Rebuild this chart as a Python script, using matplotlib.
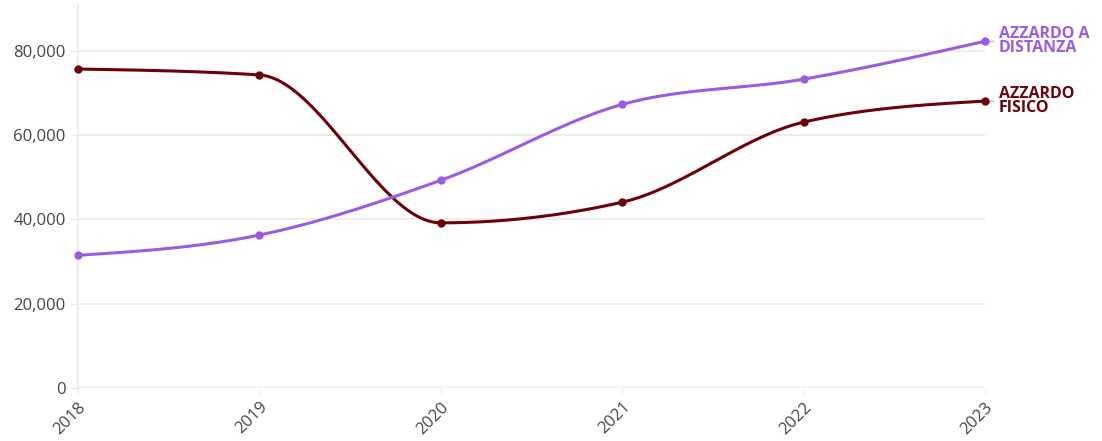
import numpy as np
import matplotlib
matplotlib.use("Agg")
import matplotlib.pyplot as plt

years = [2018, 2019, 2020, 2021, 2022, 2023]
fisico = [75700, 74300, 39200, 44100, 63100, 68100]
distanza = [31500, 36300, 49300, 67300, 73300, 82300]

col_fisico = "#6b0207"
col_distanza = "#9a5ce0"


def monotone(x, y, n=60):
	# Fritsch-Carlson monotone cubic, like d3.curveMonotoneX
	x = np.asarray(x, float)
	y = np.asarray(y, float)
	h = np.diff(x)
	s = np.diff(y) / h
	m = np.zeros(len(x))
	for i in range(1, len(x) - 1):
		if s[i - 1] * s[i] <= 0:
			m[i] = 0
		else:
			p = (s[i - 1] * h[i] + s[i] * h[i - 1]) / (h[i - 1] + h[i])
			m[i] = (np.sign(s[i - 1]) + np.sign(s[i])) * min(abs(s[i - 1]), abs(s[i]), 0.5 * abs(p))
	m[0] = (3 * s[0] - m[1]) / 2
	m[-1] = (3 * s[-1] - m[-2]) / 2
	xs, ys = [], []
	for i in range(len(x) - 1):
		t = np.linspace(0, 1, n)
		h00 = 2 * t**3 - 3 * t**2 + 1
		h10 = t**3 - 2 * t**2 + t
		h01 = -2 * t**3 + 3 * t**2
		h11 = t**3 - t**2
		xs.append(x[i] + t * h[i])
		ys.append(h00 * y[i] + h10 * h[i] * m[i] + h01 * y[i + 1] + h11 * h[i] * m[i + 1])
	return np.concatenate(xs), np.concatenate(ys)


plt.rcParams['font.family'] = ['Open Sans', 'DejaVu Sans']

fig = plt.figure(figsize=(11.02, 4.41), dpi=100)
ax = fig.add_axes([78 / 1102, 53 / 441, (985 - 78) / 1102, (388 - 5) / 441])

for vals, c in [(fisico, col_fisico), (distanza, col_distanza)]:
	sx, sy = monotone(years, vals)
	ax.plot(sx, sy, color=c, lw=2.2, solid_capstyle="round", zorder=3, clip_on=False)
	ax.plot(years, vals, "o", color=c, ms=5, zorder=4, clip_on=False)

ax.set_xlim(2018, 2023)
ax.set_ylim(0, 90900)
ax.set_yticks([0, 20000, 40000, 60000, 80000])
ax.set_yticklabels(["0", "20,000", "40,000", "60,000", "80,000"])
ax.set_xticks(years)
ax.set_xticklabels([str(y) for y in years], rotation=45, ha="right", va="top", rotation_mode="anchor")
ax.grid(axis="y", color="#ebebeb", lw=1.2)
ax.set_axisbelow(True)
for sp in ["top", "right", "bottom"]:
	ax.spines[sp].set_visible(False)
ax.spines["left"].set_color("#ebebeb")
ax.spines["left"].set_linewidth(1.2)
ax.tick_params(axis="y", length=6, color="#ebebeb", labelsize=12, labelcolor="#444444", pad=3)
ax.tick_params(axis="x", length=6, color="#ebebeb", labelsize=12, labelcolor="#444444", pad=2)

# right labels
for vals, c, txt in [(distanza, col_distanza, "AZZARDO A\nDISTANZA"), (fisico, col_fisico, "AZZARDO\nFISICO")]:
	ax.plot([2023.015, 2023.045], [vals[-1], vals[-1]], color="#bbbbbb", lw=1, clip_on=False)
	ax.annotate(txt, xy=(2023, vals[-1]), xytext=(10, 0), textcoords="offset points",
				color=c, fontsize=11.5, fontweight="bold", va="center", ha="left",
				linespacing=0.85, annotation_clip=False)

fig.savefig("out.png", dpi=100)
